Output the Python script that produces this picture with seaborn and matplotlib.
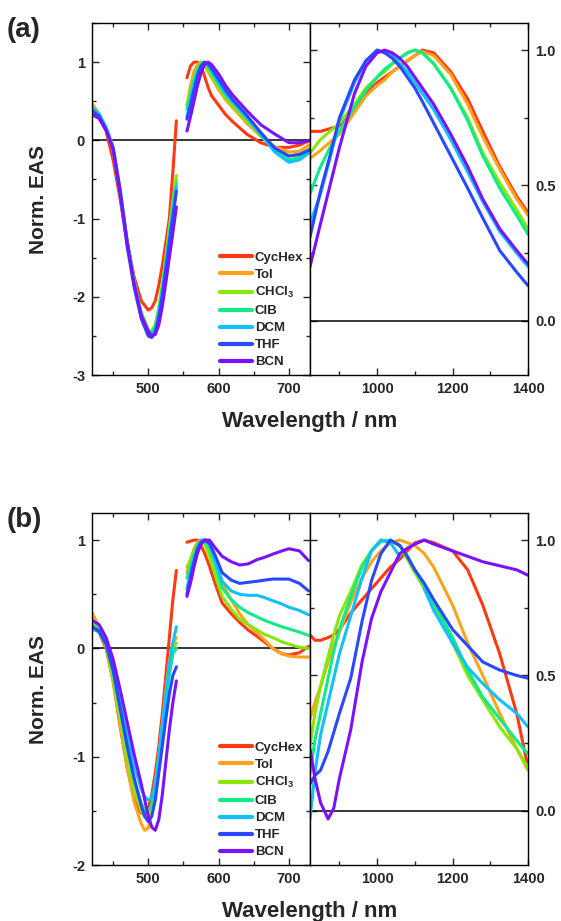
import numpy as np
import pandas as pd
import matplotlib
matplotlib.use("Agg")
import matplotlib.pyplot as plt
import seaborn as sns
from matplotlib.lines import Line2D
from matplotlib.ticker import MultipleLocator

# Solventes e cores (ordem da legenda)
solvents = ["CycHex", "Tol", "CHCl$_3$", "ClB", "DCM", "THF", "BCN"]
colors = ["#ff3a12", "#ffa21c", "#88e60a", "#10eb88", "#12c0ff", "#2a48ff", "#7a12ff"]

# ---------------- painel (a) ----------------
wl_vis_a = [420, 430, 440, 450, 460, 470, 480, 490, 500, 505, 510, 515, 520, 525, 530, 535, 540]
vis_a = [
    [0.36, 0.30, 0.12, -0.25, -0.75, -1.30, -1.75, -2.05, -2.17, -2.14, -2.05, -1.85, -1.60, -1.30, -1.00, -0.40, 0.25],
    [0.47, 0.34, 0.14, -0.12, -0.68, -1.30, -1.82, -2.20, -2.42, -2.44, -2.36, -2.15, -1.85, -1.50, -1.15, -0.80, -0.50],
    [0.38, 0.31, 0.14, -0.12, -0.68, -1.30, -1.82, -2.20, -2.42, -2.44, -2.36, -2.15, -1.85, -1.50, -1.12, -0.78, -0.45],
    [0.40, 0.32, 0.15, -0.10, -0.66, -1.30, -1.82, -2.22, -2.44, -2.46, -2.38, -2.18, -1.90, -1.55, -1.20, -0.85, -0.55],
    [0.42, 0.34, 0.17, -0.08, -0.62, -1.28, -1.82, -2.22, -2.46, -2.50, -2.42, -2.22, -1.93, -1.60, -1.25, -0.92, -0.60],
    [0.38, 0.31, 0.14, -0.12, -0.70, -1.36, -1.88, -2.28, -2.50, -2.52, -2.45, -2.26, -1.98, -1.65, -1.30, -0.98, -0.65],
    [0.33, 0.28, 0.13, -0.10, -0.64, -1.30, -1.84, -2.24, -2.44, -2.50, -2.48, -2.36, -2.12, -1.82, -1.50, -1.18, -0.85],
]
wl_red_a = [555, 560, 565, 570, 575, 580, 585, 590, 600, 610, 620, 640, 660, 680, 700, 715, 730]
red_a = [
    [0.80, 0.95, 1.00, 1.00, 0.95, 0.82, 0.68, 0.57, 0.45, 0.33, 0.24, 0.08, -0.03, -0.09, -0.09, -0.06, 0.00],
    [0.45, 0.70, 0.88, 0.97, 1.00, 0.97, 0.88, 0.80, 0.65, 0.52, 0.42, 0.22, 0.05, -0.08, -0.15, -0.14, -0.05],
    [0.45, 0.62, 0.80, 0.93, 1.00, 0.98, 0.90, 0.82, 0.68, 0.55, 0.45, 0.25, 0.06, -0.10, -0.20, -0.18, -0.10],
    [0.40, 0.58, 0.76, 0.90, 0.98, 1.00, 0.95, 0.87, 0.72, 0.58, 0.48, 0.28, 0.07, -0.12, -0.25, -0.22, -0.12],
    [0.30, 0.50, 0.70, 0.86, 0.96, 1.00, 0.96, 0.89, 0.75, 0.60, 0.50, 0.30, 0.08, -0.15, -0.28, -0.25, -0.15],
    [0.27, 0.45, 0.65, 0.83, 0.95, 1.00, 0.98, 0.92, 0.78, 0.64, 0.52, 0.32, 0.10, -0.10, -0.20, -0.18, -0.12],
    [0.12, 0.30, 0.50, 0.70, 0.86, 0.97, 1.00, 0.97, 0.85, 0.70, 0.58, 0.38, 0.20, 0.08, -0.03, -0.03, 0.00],
]
wl_nir_a = [822, 850, 875, 900, 940, 970, 1000, 1020, 1040, 1060, 1080, 1100, 1120, 1150, 1195, 1240, 1280, 1325, 1370, 1400]
nir_a = [
    [0.70, 0.70, 0.71, 0.72, 0.78, 0.84, 0.88, 0.90, 0.92, 0.94, 0.96, 0.98, 1.00, 0.99, 0.92, 0.82, 0.70, 0.57, 0.46, 0.40],
    [0.60, 0.63, 0.66, 0.69, 0.77, 0.83, 0.87, 0.89, 0.92, 0.94, 0.96, 0.98, 0.995, 0.98, 0.91, 0.80, 0.68, 0.56, 0.45, 0.39],
    [0.62, 0.67, 0.70, 0.73, 0.80, 0.86, 0.90, 0.92, 0.95, 0.97, 0.99, 1.00, 0.99, 0.95, 0.86, 0.75, 0.62, 0.51, 0.41, 0.34],
    [0.47, 0.57, 0.64, 0.70, 0.79, 0.85, 0.90, 0.93, 0.95, 0.97, 0.99, 1.00, 0.99, 0.95, 0.86, 0.74, 0.61, 0.49, 0.39, 0.32],
    [0.36, 0.47, 0.60, 0.74, 0.88, 0.96, 1.00, 0.99, 0.98, 0.95, 0.92, 0.88, 0.84, 0.78, 0.67, 0.55, 0.44, 0.33, 0.25, 0.20],
    [0.31, 0.48, 0.61, 0.75, 0.89, 0.96, 1.00, 0.99, 0.97, 0.94, 0.90, 0.86, 0.81, 0.73, 0.61, 0.49, 0.38, 0.26, 0.18, 0.13],
    [0.20, 0.36, 0.50, 0.64, 0.84, 0.94, 0.99, 1.00, 0.99, 0.97, 0.94, 0.90, 0.86, 0.80, 0.69, 0.57, 0.45, 0.34, 0.26, 0.21],
]

# ---------------- painel (b) ----------------
wl_vis_b = [420, 430, 440, 450, 460, 470, 480, 490, 495, 500, 505, 510, 515, 520, 525, 530, 535, 540]
vis_b = [
    [0.25, 0.15, 0.00, -0.30, -0.72, -1.10, -1.38, -1.52, -1.54, -1.48, -1.35, -1.15, -0.90, -0.60, -0.25, 0.10, 0.45, 0.72],
    [0.33, 0.20, 0.02, -0.30, -0.70, -1.10, -1.42, -1.62, -1.68, -1.66, -1.50, -1.25, -1.00, -0.70, -0.40, -0.12, 0.05, 0.10],
    [0.25, 0.17, 0.02, -0.28, -0.65, -1.02, -1.32, -1.50, -1.56, -1.55, -1.45, -1.25, -1.00, -0.72, -0.45, -0.18, 0.00, 0.05],
    [0.22, 0.17, 0.04, -0.22, -0.56, -0.92, -1.22, -1.43, -1.50, -1.50, -1.45, -1.30, -1.05, -0.78, -0.50, -0.25, -0.05, 0.00],
    [0.18, 0.15, 0.05, -0.18, -0.48, -0.80, -1.08, -1.30, -1.37, -1.40, -1.38, -1.25, -1.00, -0.70, -0.42, -0.15, 0.05, 0.20],
    [0.20, 0.16, 0.04, -0.20, -0.55, -0.90, -1.20, -1.45, -1.55, -1.60, -1.55, -1.40, -1.15, -0.90, -0.65, -0.42, -0.25, -0.17],
    [0.26, 0.22, 0.10, -0.10, -0.38, -0.68, -0.98, -1.25, -1.40, -1.55, -1.65, -1.68, -1.58, -1.35, -1.05, -0.75, -0.50, -0.30],
]
wl_red_b = [555, 560, 565, 570, 575, 580, 587, 595, 605, 618, 630, 642, 655, 665, 677, 690, 700, 715, 728]
red_b = [
    [0.98, 0.99, 1.00, 1.00, 0.95, 0.88, 0.76, 0.60, 0.42, 0.32, 0.24, 0.17, 0.11, 0.06, 0.00, -0.05, -0.06, -0.04, 0.02],
    [0.70, 0.82, 0.92, 0.98, 1.00, 0.98, 0.90, 0.78, 0.60, 0.45, 0.32, 0.22, 0.14, 0.08, 0.00, -0.05, -0.07, -0.08, -0.08],
    [0.75, 0.82, 0.90, 0.97, 1.00, 0.97, 0.85, 0.68, 0.48, 0.36, 0.27, 0.22, 0.17, 0.13, 0.10, 0.06, 0.04, 0.01, 0.00],
    [0.65, 0.75, 0.86, 0.95, 1.00, 1.00, 0.93, 0.78, 0.56, 0.45, 0.38, 0.33, 0.29, 0.26, 0.23, 0.20, 0.18, 0.15, 0.12],
    [0.55, 0.70, 0.82, 0.93, 0.99, 1.00, 0.96, 0.82, 0.62, 0.53, 0.50, 0.49, 0.49, 0.47, 0.44, 0.41, 0.38, 0.35, 0.31],
    [0.50, 0.66, 0.80, 0.92, 0.98, 1.00, 0.97, 0.86, 0.70, 0.63, 0.60, 0.61, 0.62, 0.63, 0.64, 0.64, 0.64, 0.60, 0.53],
    [0.48, 0.60, 0.75, 0.88, 0.96, 1.00, 1.00, 0.93, 0.85, 0.80, 0.77, 0.78, 0.82, 0.84, 0.87, 0.90, 0.92, 0.90, 0.81],
]
wl_nir_b = [822, 835, 850, 870, 885, 900, 930, 960, 985, 1010, 1035, 1060, 1080, 1100, 1125, 1150, 1200, 1240, 1280, 1325, 1370, 1400]
nan = float("nan")
nir_b = [
    [0.65, 0.63, 0.63, 0.64, 0.65, 0.67, 0.73, 0.78, 0.82, 0.86, 0.90, 0.93, 0.96, 0.99, 1.00, 0.99, 0.96, 0.89, 0.76, 0.58, 0.36, 0.16],
    [0.34, 0.40, 0.46, 0.55, 0.61, 0.66, 0.77, 0.86, 0.92, 0.96, 0.99, 1.00, 0.99, 0.98, 0.95, 0.90, 0.76, 0.62, 0.50, 0.36, 0.23, 0.15],
    [0.24, 0.36, 0.46, 0.57, 0.65, 0.72, 0.81, 0.91, 0.96, 1.00, 0.995, 0.98, 0.93, 0.88, 0.82, 0.76, 0.62, 0.50, 0.41, 0.31, 0.23, 0.16],
    [0.14, 0.26, 0.36, 0.49, 0.59, 0.67, 0.79, 0.90, 0.96, 0.995, 1.00, 0.98, 0.94, 0.89, 0.83, 0.77, 0.64, 0.52, 0.42, 0.34, 0.26, 0.21],
    [-0.03, 0.14, 0.28, 0.40, 0.49, 0.58, 0.72, 0.86, 0.96, 1.00, 0.99, 0.94, nan, nan, 0.82, 0.74, 0.62, 0.53, 0.47, 0.41, 0.36, 0.31],
    [0.10, 0.13, 0.15, 0.22, 0.29, 0.36, 0.49, 0.70, 0.85, 0.95, 1.00, 0.98, 0.94, 0.89, 0.84, 0.78, 0.67, 0.61, 0.55, 0.52, 0.50, 0.49],
    [0.23, 0.12, 0.03, -0.03, 0.01, 0.12, 0.30, 0.55, 0.71, 0.81, 0.88, 0.95, 0.97, 0.985, 1.00, 0.985, 0.96, 0.94, 0.92, 0.905, 0.89, 0.87],
]

sns.set_style("ticks")
plt.rcParams["font.family"] = ["Liberation Sans", "DejaVu Sans"]
plt.rcParams["font.weight"] = "bold"
plt.rcParams["axes.labelweight"] = "bold"
plt.rcParams["axes.unicode_minus"] = False
plt.rcParams["mathtext.fontset"] = "custom"
plt.rcParams["mathtext.bf"] = "Liberation Sans:bold"
plt.rcParams["mathtext.rm"] = "Liberation Sans:bold"
plt.rcParams["mathtext.default"] = "bf"

palette = dict(zip(solvents, colors))


def tabela(segmentos):
    """Monta o dataframe longo (wl, val, solvente, trecho); NaN separa trechos."""
    linhas = []
    for nome_seg, wl, rows in segmentos:
        for nome, vals in zip(solvents, rows):
            parte = 0
            for w, v in zip(wl, vals):
                if np.isnan(v):
                    parte += 1
                    continue
                linhas.append((w, v, nome, f"{nome_seg}{parte}"))
    return pd.DataFrame(linhas, columns=["wl", "val", "solvente", "trecho"])


def desenhar(ax, df):
    sns.lineplot(data=df, x="wl", y="val", hue="solvente", units="trecho",
                 estimator=None, sort=False, hue_order=solvents, palette=palette,
                 linewidth=2.2, legend=False, ax=ax)
    ax.set_xlabel("")
    ax.set_ylabel("")


def estilo_comum(ax):
    ax.tick_params(which="both", direction="in", top=True, labelsize=10.5, width=1.0)
    ax.tick_params(which="major", length=5, pad=5)
    ax.tick_params(which="minor", length=3)
    for s in ax.spines.values():
        s.set_linewidth(1.0)
        s.set_color("black")
    ax.axhline(0, color="black", lw=1.1, zorder=1)


fig = plt.figure(figsize=(5.61, 9.21), dpi=100)

paineis = [
    ("(a)", 0.5928, (-3, 1.5), [-3, -2, -1, 0, 1], wl_vis_a, vis_a, wl_red_a, red_a, wl_nir_a, nir_a),
    ("(b)", 0.0608, (-2, 1.25), [-2, -1, 0, 1], wl_vis_b, vis_b, wl_red_b, red_b, wl_nir_b, nir_b),
]

for letra, base, ylim, yticks, wv, vv, wr, vr, wn, vn in paineis:
    ax_l = fig.add_axes([0.1640, base, 0.3886, 0.3822])
    ax_r = fig.add_axes([0.5526, base, 0.3886, 0.3822])

    desenhar(ax_l, tabela([("vis", wv, vv), ("red", wr, vr)]))
    desenhar(ax_r, tabela([("nir", wn, vn)]))

    # eixo esquerdo (visível)
    ax_l.set_xlim(420, 730)
    ax_l.set_ylim(*ylim)
    ax_l.set_xticks([500, 600, 700])
    ax_l.xaxis.set_minor_locator(MultipleLocator(50))
    ax_l.set_yticks(yticks)
    ax_l.yaxis.set_minor_locator(MultipleLocator(0.5))
    estilo_comum(ax_l)
    ax_l.tick_params(which="both", right=True)
    ax_l.set_ylabel("Norm. EAS", fontsize=15, fontweight="bold")
    ax_l.yaxis.set_label_coords(-0.20, 0.5)

    # eixo direito (NIR)
    ax_r.set_xlim(822, 1400)
    ax_r.set_ylim(-0.2, 1.1)
    ax_r.set_xticks([1000, 1200, 1400])
    ax_r.xaxis.set_minor_locator(MultipleLocator(100))
    ax_r.set_yticks([0.0, 0.5, 1.0])
    ax_r.yaxis.set_minor_locator(MultipleLocator(0.25))
    estilo_comum(ax_r)
    ax_r.tick_params(which="both", left=True, right=True, labelleft=False, labelright=True)

    # legenda
    handles = [Line2D([], [], color=c, lw=3) for c in colors]
    ax_l.legend(handles, solvents, loc="lower right", bbox_to_anchor=(1.0, 0.0),
                frameon=False, fontsize=9.5, handlelength=2.45, handletextpad=0.2,
                labelspacing=0.36, borderaxespad=0.3, borderpad=0.2)

    topo = base + 0.3822
    fig.text(0.012, topo - 0.008, letra, fontsize=20, fontweight="bold", va="center", ha="left")
    fig.text(310 / 561, base - 0.050, "Wavelength / nm", fontsize=16, fontweight="bold",
             ha="center", va="center")

fig.savefig("out.png", dpi=100)
plt.close(fig)
